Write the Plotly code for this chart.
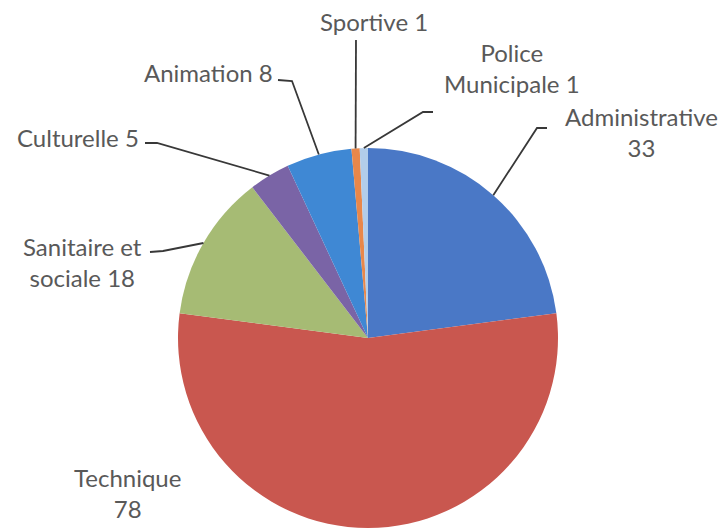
import math
import plotly.graph_objects as go

# Effectifs par filière
categories = ["Administrative", "Technique", "Sanitaire et sociale", "Culturelle",
              "Animation", "Sportive", "Police Municipale"]
values = [33, 78, 18, 5, 8, 1, 1]
label_text = ["Administrative<br>33", "Technique<br>78", "Sanitaire et<br>sociale 18",
              "Culturelle 5", "Animation 8", "Sportive 1", "Police<br>Municipale 1"]
colors = ["#4a78c6", "#c9574f", "#a6bb74", "#7a64a6", "#3f88d4", "#e8874a", "#b2cdea"]

W, H = 725, 528
CX = 368                      # pie centre, px from left
DOM_H = 0.7197                # pie domain height (paper)
R = DOM_H * H / 2             # pie radius in px
CY = H - R                    # pie centre, px from top

# label centres (px) and leader-line bend points (px); None = no leader
label_pos = [(641, 132), (128, 493), (82, 262), (78, 137), (208, 73), (374, 22), (512, 68)]
leader_bend = [[(537, 128), (547, 128)],
               None,
               [(163, 251), (150, 252)],
               [(157, 143), (145, 143)],
               [(292, 81), (278, 80)],
               [(356, 40)],
               [(423, 112), (433, 112)]]


def px(x, y):
    return x / W, 1 - y / H


fig = go.Figure(go.Pie(
    labels=categories,
    values=values,
    sort=False,
    direction="clockwise",
    rotation=0,
    marker=dict(colors=colors, line=dict(width=0)),
    textinfo="none",
    hoverinfo="label+value",
    showlegend=False,
    domain=dict(x=[CX / W - 0.32, CX / W + 0.32], y=[0, DOM_H]),
))

total = sum(values)
shapes = []
annotations = []
cum = 0
for v, txt, (lx, ly), bend in zip(values, label_text, label_pos, leader_bend):
    mid = (cum + v / 2) / total * 2 * math.pi
    cum += v
    if bend is not None:
        ex = CX + R * math.sin(mid)
        ey = CY - R * math.cos(mid)
        pts = [(ex, ey)] + bend
        path = ""
        for i, (x, y) in enumerate(pts):
            u, w = px(x, y)
            path += ("M" if i == 0 else " L") + f" {u:.5f} {w:.5f}"
        shapes.append(dict(type="path", path=path, xref="paper", yref="paper",
                           line=dict(color="#383838", width=1.8)))
    ax, ay = px(lx, ly)
    annotations.append(dict(text=txt, x=ax, y=ay, xref="paper", yref="paper",
                            showarrow=False, xanchor="center", yanchor="middle",
                            align="center",
                            font=dict(family="Lato", size=24, color="#595959")))

fig.update_layout(
    width=W, height=H,
    margin=dict(l=0, r=0, t=0, b=0),
    paper_bgcolor="white",
    plot_bgcolor="white",
    shapes=shapes,
    annotations=annotations,
)

fig.write_html("out.html")
